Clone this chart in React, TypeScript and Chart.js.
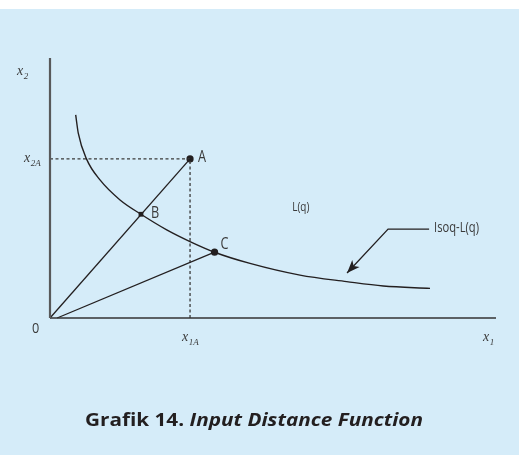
import React, { useEffect, useRef } from "react";
import { Chart, registerables } from "chart.js";
Chart.register(...registerables);

// Isoquant Isoq-L(q) (data units 0..100 on both axes)
const isoquantX = [5.76, 6.35, 8.23, 11.21, 15.7, 20.4, 26.17, 31.39, 36.9, 44.84, 56.05, 66.52, 74.73, 85.2];
const isoquantY = [78.1, 71.0, 61.0, 53.1, 45.4, 39.9, 33.9, 29.4, 25.3, 21.0, 16.5, 14.0, 12.3, 11.4];
// Points A, B, C
const pointLabels = ["A", "B", "C"];
const pointX = [31.4, 20.4, 36.9];
const pointY = [61.2, 39.9, 25.3];
// Ray O-C starts slightly right of origin
const rayCStartX = 1.6;
// Arrow leader (from label to curve)
const leaderX = [85.0, 75.8, 66.6];
const leaderY = [34.2, 34.2, 17.3];
// Text positions
const lqPos = [54.3, 42.7];
const isoqPos = [86.1, 34.6];
const axisMax = 100;
const titleBold = "Grafik 14. ";
const titleItalic = "Input Distance Function";

const INK = "#231f20";
const TXT = "#3a3a3a";

const pts = (xs: number[], ys: number[]) => xs.map((x, i) => ({ x, y: ys[i] }));

function subLabel(ctx: CanvasRenderingContext2D, main: string, sub: string, x: number, y: number) {
  ctx.save();
  ctx.fillStyle = TXT;
  ctx.textAlign = "left";
  ctx.textBaseline = "alphabetic";
  ctx.font = "italic 14px 'Liberation Serif', 'DejaVu Serif', serif";
  ctx.fillText(main, x, y);
  const w = ctx.measureText(main).width;
  ctx.font = "italic 9px 'Liberation Serif', 'DejaVu Serif', serif";
  ctx.fillText(sub, x + w + 0.5, y + 4);
  ctx.restore();
}

function sansText(ctx: CanvasRenderingContext2D, t: string, x: number, y: number, size: number, sx = 0.85) {
  ctx.save();
  ctx.fillStyle = TXT;
  ctx.textAlign = "left";
  ctx.textBaseline = "middle";
  ctx.font = `${size}px 'Open Sans', 'Noto Sans', sans-serif`;
  ctx.translate(x, y);
  ctx.scale(sx, 1);
  ctx.fillText(t, 0, 0);
  ctx.restore();
}

const decor = {
  id: "decor",
  beforeDraw(chart: any) {
    const { ctx, width, height } = chart;
    ctx.save();
    ctx.fillStyle = "#ffffff";
    ctx.fillRect(0, 0, width, height);
    ctx.fillStyle = "#d5ecf9";
    ctx.fillRect(0, 9, width, height - 9);
    ctx.restore();
  },
  afterDatasetsDraw(chart: any) {
    const { ctx } = chart;
    const xs = chart.scales.x;
    const ys = chart.scales.y;
    const px = (v: number) => xs.getPixelForValue(v);
    const py = (v: number) => ys.getPixelForValue(v);

    // arrowhead
    const n = leaderX.length;
    const tx = px(leaderX[n - 1]), ty = py(leaderY[n - 1]);
    const fx = px(leaderX[n - 2]), fy = py(leaderY[n - 2]);
    const ang = Math.atan2(ty - fy, tx - fx);
    const L = 13, W = 5;
    ctx.save();
    ctx.fillStyle = INK;
    ctx.beginPath();
    ctx.moveTo(tx, ty);
    ctx.lineTo(tx - L * Math.cos(ang) + W * Math.sin(ang), ty - L * Math.sin(ang) - W * Math.cos(ang));
    ctx.lineTo(tx - L * 0.75 * Math.cos(ang), ty - L * 0.75 * Math.sin(ang));
    ctx.lineTo(tx - L * Math.cos(ang) - W * Math.sin(ang), ty - L * Math.sin(ang) + W * Math.cos(ang));
    ctx.closePath();
    ctx.fill();
    ctx.restore();

    // point labels
    const offs = [[8, -1], [10, -1], [6, -8]];
    pointLabels.forEach((l, i) => {
      sansText(ctx, l, px(pointX[i]) + offs[i][0], py(pointY[i]) + offs[i][1], 15.5, 0.82);
    });
    sansText(ctx, "L(q)", px(lqPos[0]), py(lqPos[1]), 12.5, 0.8);
    sansText(ctx, "Isoq-L(q)", px(isoqPos[0]), py(isoqPos[1]), 14, 0.8);

    // axis labels
    const x0 = px(0), y0 = py(0);
    sansText(ctx, "0", x0 - 18, y0 + 11, 15, 0.85);
    subLabel(ctx, "x", "2", x0 - 33, py(axisMax) + 17);
    subLabel(ctx, "x", "2A", x0 - 26, py(pointY[0]) + 3);
    subLabel(ctx, "x", "1A", px(pointX[0]) - 8, y0 + 23);
    subLabel(ctx, "x", "1", px(axisMax) - 13, y0 + 23);

    // title
    ctx.save();
    ctx.fillStyle = INK;
    ctx.textBaseline = "alphabetic";
    const fb = "bold 18px 'Open Sans', 'Noto Sans', sans-serif";
    const fi = "italic bold 18px 'Open Sans', 'Noto Sans', sans-serif";
    ctx.font = fb;
    const wb = ctx.measureText(titleBold).width;
    ctx.font = fi;
    const wi = ctx.measureText(titleItalic).width;
    const target = 338;
    const s = target / (wb + wi);
    ctx.translate(85, 426);
    ctx.scale(s, 1);
    ctx.font = fb;
    ctx.fillText(titleBold, 0, 0);
    ctx.font = fi;
    ctx.fillText(titleItalic, wb, 0);
    ctx.restore();
  },
};

export default function App() {
  const ref = useRef<HTMLCanvasElement | null>(null);
  useEffect(() => {
    if (!ref.current) return;
    const line = (data: any[], extra: any = {}) => ({
      data,
      showLine: true,
      borderColor: INK,
      borderWidth: 1.3,
      pointRadius: 0,
      clip: false,
      ...extra,
    });
    const chart = new Chart(ref.current, {
      type: "scatter",
      data: {
        datasets: [
          line([{ x: 0, y: 0 }, { x: 0, y: axisMax }], { borderColor: "#58595b", borderWidth: 2.2 }),
          line([{ x: 0, y: 0 }, { x: axisMax, y: 0 }], { borderColor: "#333333", borderWidth: 1.6 }),
          line(pts(isoquantX, isoquantY), { cubicInterpolationMode: "monotone", borderWidth: 1.4 }),
          line([{ x: 0, y: 0 }, { x: pointX[0], y: pointY[0] }]),
          line([{ x: rayCStartX, y: 0 }, { x: pointX[2], y: pointY[2] }]),
          line([{ x: 0, y: pointY[0] }, { x: pointX[0], y: pointY[0] }], { borderDash: [3, 2.5], borderColor: "#3a3a3a", borderWidth: 1.3 }),
          line([{ x: pointX[0], y: 0 }, { x: pointX[0], y: pointY[0] }], { borderDash: [3, 2.5], borderColor: "#3a3a3a", borderWidth: 1.3 }),
          line(pts(leaderX, leaderY), { borderWidth: 1.3 }),
          {
            data: pts(pointX, pointY),
            showLine: false,
            pointRadius: [3.6, 3.4, 3.6],
            pointStyle: ["circle", "rect", "circle"],
            pointBackgroundColor: INK,
            pointBorderColor: INK,
            pointBorderWidth: 0,
            clip: false,
          },
        ],
      },
      options: {
        animation: false,
        responsive: false,
        events: [],
        layout: { padding: { left: 50, right: 23, top: 58, bottom: 137 } },
        plugins: { legend: { display: false }, tooltip: { enabled: false }, title: { display: false } },
        scales: {
          x: { type: "linear", min: 0, max: axisMax, display: false },
          y: { type: "linear", min: 0, max: axisMax, display: false },
        },
      },
      plugins: [decor],
    } as any);
    return () => chart.destroy();
  }, []);
  return (
    <div style={{ position: "fixed", left: 0, top: 0, width: 519, height: 455, background: "#fff" }}>
      <canvas ref={ref} width={519} height={455} style={{ display: "block", width: 519, height: 455 }} />
    </div>
  );
}
